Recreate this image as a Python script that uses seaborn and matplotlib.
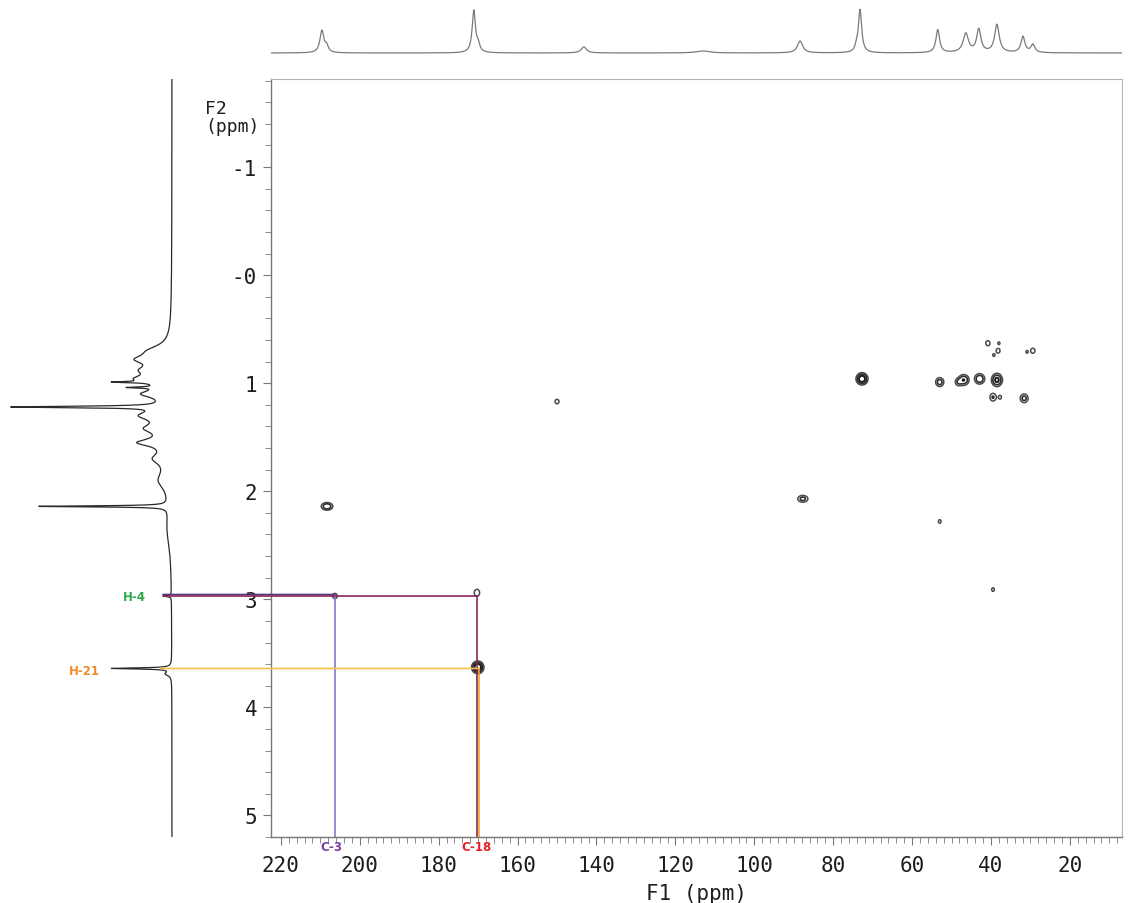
import numpy as np
import pandas as pd
import matplotlib
matplotlib.use("Agg")
import matplotlib.pyplot as plt
import seaborn as sns
from matplotlib.patches import ConnectionPatch
import matplotlib.transforms as mtransforms

# ---------------- data ----------------
# 13C projection (top): peak position (ppm), height, half width (ppm)
c13_ppm = [209.6, 208.4, 171.1, 170.0, 143.2, 113.0, 88.4, 74.1, 73.2, 53.5, 46.4, 43.1, 38.5, 31.9, 29.4]
c13_height = [22, 6, 42, 7, 6, 2, 12, 4, 43, 23, 19, 23, 28, 16, 8]
c13_hwhm = [0.6, 0.5, 0.5, 0.5, 0.8, 2.0, 0.8, 0.4, 0.5, 0.55, 0.8, 0.65, 0.7, 0.6, 0.6]

# 1H projection (left): peak position (ppm), height, half width (ppm)
h1_ppm = [0.70, 0.78, 0.88, 0.96, 0.99, 1.04, 1.10, 1.22, 1.30, 1.42, 1.55, 1.70, 1.90, 2.14, 2.35, 2.97, 3.64, 3.69]
h1_height = [16, 26, 20, 26, 34, 28, 24, 148, 26, 20, 28, 14, 11, 130, 4, 8, 60, 6]
h1_hwhm = [0.06, 0.05, 0.05, 0.04, 0.006, 0.006, 0.04, 0.008, 0.05, 0.05, 0.04, 0.06, 0.1, 0.006, 0.2, 0.006, 0.006, 0.02]

# HMBC cross peaks: F1 (13C ppm), F2 (1H ppm), intensity, widths
cross_f1 = [208.3, 206.3, 170.3, 170.1, 150.0, 87.7, 72.7, 53.0, 46.9, 48.3, 42.9, 38.5,
            39.5, 37.7, 31.6, 40.8, 38.0, 38.2, 39.3, 29.4, 30.9, 53.0, 39.5]
cross_f2 = [2.14, 2.97, 2.94, 3.63, 1.17, 2.07, 0.96, 0.99, 0.97, 0.99, 0.96, 0.97,
            1.13, 1.13, 1.14, 0.63, 0.63, 0.70, 0.74, 0.70, 0.71, 2.28, 2.91]
cross_int = [0.75, 0.32, 0.38, 1.4, 0.28, 0.55, 1.25, 0.6, 0.8, 0.4, 0.75, 0.95,
             0.45, 0.25, 0.55, 0.35, 0.25, 0.35, 0.25, 0.35, 0.25, 0.25, 0.25]
cross_w1 = [0.9, 0.6, 0.6, 0.8, 0.6, 0.9, 0.8, 0.7, 0.8, 0.6, 0.8, 0.8,
            0.6, 0.5, 0.7, 0.5, 0.4, 0.45, 0.4, 0.5, 0.4, 0.5, 0.5]
cross_w2 = [0.022, 0.025, 0.028, 0.03, 0.025, 0.022, 0.03, 0.028, 0.03, 0.025, 0.03, 0.035,
            0.028, 0.025, 0.028, 0.022, 0.018, 0.02, 0.018, 0.022, 0.018, 0.025, 0.025]

x_ticks = [220, 200, 180, 160, 140, 120, 100, 80, 60, 40, 20]
y_ticks = [-1, 0, 1, 2, 3, 4, 5]
y_tick_labels = ["-1", "-0", "1", "2", "3", "4", "5"]

# correlations: proton label, proton ppm, carbon label, carbon ppm
h_labels = ["H-4", "H-21"]
h_shifts = [2.97, 3.64]
c_labels = ["C-3", "C-18"]
c_shifts = [206.3, 170.3]

# ---------------- style ----------------
sns.set_style("white")
plt.rcParams["font.family"] = ["DejaVu Sans Mono", "DejaVu Sans"]

W, H = 1128, 904
fig = plt.figure(figsize=(W / 100, H / 100), dpi=100)

def fr(x0, y0, x1, y1):
    return [x0 / W, 1 - y1 / H, (x1 - x0) / W, (y1 - y0) / H]

XL = (222.5, 6.8)
YL = (5.2, -1.815)

ax = fig.add_axes(fr(271, 80, 1122, 838))
ax_top = fig.add_axes(fr(271, 0, 1122, 62))
ax_left = fig.add_axes(fr(0, 80, 176, 838))

# ---------------- top 13C trace ----------------
xg = np.linspace(XL[0], XL[1], 4000)
top = np.zeros_like(xg)
for p, h, w in zip(c13_ppm, c13_height, c13_hwhm):
    top += h * w**2 / ((xg - p) ** 2 + w**2)
df_top = pd.DataFrame({"ppm": xg, "I": top})
sns.lineplot(data=df_top, x="ppm", y="I", ax=ax_top, color="#7a7a7a", lw=0.9,
             sort=False, estimator=None)
ax_top.set_xlim(*XL)
ax_top.set_ylim(-8, 54)
ax_top.axis("off")

# ---------------- left 1H trace ----------------
yg = np.linspace(YL[1], YL[0], 5000)
left = np.zeros_like(yg)
for p, h, w in zip(h1_ppm, h1_height, h1_hwhm):
    left += h * w**2 / ((yg - p) ** 2 + w**2)
df_left = pd.DataFrame({"ppm": yg, "I": left})
sns.lineplot(data=df_left, x="I", y="ppm", ax=ax_left, color="#2a2a2a", lw=0.9,
             sort=False, estimator=None, orient="y")
ax_left.set_xlim(172, -4)
ax_left.set_ylim(*YL)
ax_left.axis("off")

# ---------------- 2D contours ----------------
gx = np.linspace(XL[1], XL[0], 2400)
gy = np.linspace(YL[1], YL[0], 1800)
f1 = np.array(cross_f1)[:, None]
f2 = np.array(cross_f2)[:, None]
Gx = np.exp(-0.5 * ((gx[None, :] - f1) / np.array(cross_w1)[:, None]) ** 2)
Gy = np.exp(-0.5 * ((gy[None, :] - f2) / np.array(cross_w2)[:, None]) ** 2)
Z = (Gy * np.array(cross_int)[:, None]).T @ Gx
ax.contour(gx, gy, Z, levels=[0.2, 0.42, 0.8], colors=["#4a4a4a", "#2e2e2e", "#1a1a1a"],
           linewidths=[1.1, 1.2, 1.4])

ax.set_xlim(*XL)
ax.set_ylim(*YL)

# axes styling
for s in ["left", "bottom"]:
    ax.spines[s].set_color("#777777")
    ax.spines[s].set_linewidth(1.0)
for s in ["top", "right"]:
    ax.spines[s].set_color("#b5b5b5")
    ax.spines[s].set_linewidth(0.8)

ax.set_xticks(x_ticks)
ax.set_xticklabels([str(v) for v in x_ticks])
ax.set_xticks(np.arange(8, 222, 2), minor=True)
ax.set_yticks(y_ticks)
ax.set_yticklabels(y_tick_labels)
ax.set_yticks(np.arange(-1.8, 5.21, 0.2), minor=True)
ax.tick_params(axis="both", which="both", left=True, bottom=True, top=False, right=False)
ax.tick_params(axis="both", which="major", direction="out", length=6, width=0.8,
               color="#777777", labelsize=15, labelcolor="#1e1e1e", pad=4)
ax.tick_params(axis="both", which="minor", direction="out", length=4, width=0.7,
               color="#8a8a8a")
ax.tick_params(axis="x", which="major", pad=7)
ax.set_xlabel("F1 (ppm)", fontsize=15, color="#1e1e1e", labelpad=6)
fig.text(205 / W, 1 - 100 / H, "F2\n(ppm)", fontsize=13, color="#1e1e1e",
         ha="left", va="top", linespacing=1.0)

# ---------------- correlation lines ----------------
purple_dark = "#56307e"
maroon = "#8a2757"
lavender = "#8a78c4"
gold = "#f2c24a"
orange_v = "#efa632"

up = mtransforms.offset_copy(ax.transData, fig=fig, x=0, y=1.5, units="dots")
up_l = mtransforms.offset_copy(ax_left.transData, fig=fig, x=0, y=1.5, units="dots")
fig.add_artist(ConnectionPatch(xyA=(9, h_shifts[0]), coordsA=up_l,
                               xyB=(c_shifts[0], h_shifts[0]), coordsB=up,
                               color=purple_dark, lw=1.2))
fig.add_artist(ConnectionPatch(xyA=(9, h_shifts[0]), coordsA=ax_left.transData,
                               xyB=(c_shifts[1], h_shifts[0]), coordsB=ax.transData,
                               color=maroon, lw=1.2))
fig.add_artist(ConnectionPatch(xyA=(12, h_shifts[1]), coordsA=ax_left.transData,
                               xyB=(c_shifts[1], h_shifts[1]), coordsB=ax.transData,
                               color=gold, lw=1.2))
ax.plot([c_shifts[0], c_shifts[0]], [h_shifts[0], YL[0]], color=lavender, lw=1.2)
ax.plot([c_shifts[1], c_shifts[1]], [h_shifts[0], YL[0]], color=maroon, lw=1.2)
ax.plot([c_shifts[1] - 0.6, c_shifts[1] - 0.6], [h_shifts[1], YL[0]], color=orange_v, lw=1.2)

# labels
ax_left.text(26, h_shifts[0], h_labels[0], color="#2fa84b", fontsize=8.5, fontweight="bold",
             family="DejaVu Sans", ha="right", va="center")
ax_left.text(72, h_shifts[1] + 0.02, h_labels[1], color="#f08a2a", fontsize=8.5, fontweight="bold",
             family="DejaVu Sans", ha="right", va="center")
xt = ax.get_xaxis_transform()
ax.text(c_shifts[0] + 0.8, -0.012, c_labels[0], transform=xt, color="#7a3da8", fontsize=8.5,
        fontweight="bold", family="DejaVu Sans", ha="center", va="center")
ax.text(c_shifts[1], -0.012, c_labels[1], transform=xt, color="#e3202a", fontsize=8.5,
        fontweight="bold", family="DejaVu Sans", ha="center", va="center")

fig.savefig("out.png", dpi=100, facecolor="white")
